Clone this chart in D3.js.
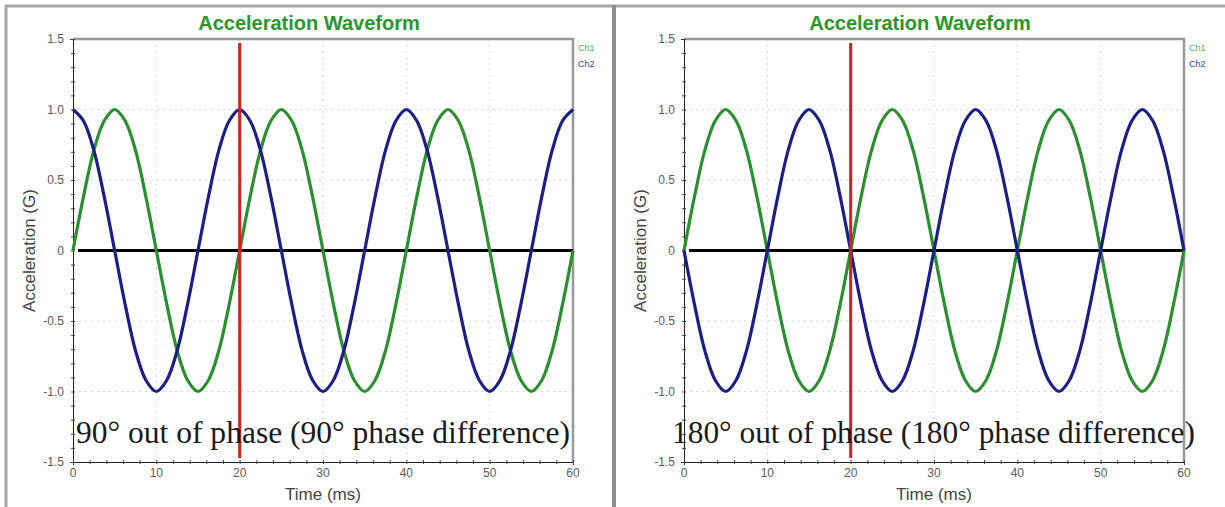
<!DOCTYPE html>
<html>
<head>
<meta charset="utf-8">
<script src="https://cdn.jsdelivr.net/npm/d3@7"></script>
<style>
	body { margin: 0; background: #ffffff; }
	.tickLabel { font-family: Arial, "Liberation Sans", sans-serif; font-size: 12px; fill: #5a5a5a; }
	.axisTitle { font-family: Arial, "Liberation Sans", sans-serif; font-size: 17px; fill: #444444; }
	.chartTitle { font-family: Arial, "Liberation Sans", sans-serif; font-size: 20px; font-weight: bold; fill: #2b962b; }
	.legendLabel { font-family: Arial, "Liberation Sans", sans-serif; font-size: 9px; }
	.phaseNote { font-family: "Liberation Serif", "Times New Roman", serif; font-size: 31px; fill: #1a1a1a; }
</style>
</head>
<body>
<script>

//chart data, sampled every 1.25 ms

var timeMs = [0, 1.25, 2.5, 3.75, 5, 6.25, 7.5, 8.75, 10, 11.25, 12.5, 13.75, 15, 16.25, 17.5, 18.75,
	20, 21.25, 22.5, 23.75, 25, 26.25, 27.5, 28.75, 30, 31.25, 32.5, 33.75, 35, 36.25, 37.5, 38.75,
	40, 41.25, 42.5, 43.75, 45, 46.25, 47.5, 48.75, 50, 51.25, 52.5, 53.75, 55, 56.25, 57.5, 58.75, 60];

var leftCh1 = [0, 0.38, 0.71, 0.92, 1.00, 0.92, 0.71, 0.38, 0, -0.38, -0.71, -0.92, -1.00, -0.92, -0.71, -0.38,
	0, 0.38, 0.71, 0.92, 1.00, 0.92, 0.71, 0.38, 0, -0.38, -0.71, -0.92, -1.00, -0.92, -0.71, -0.38,
	0, 0.38, 0.71, 0.92, 1.00, 0.92, 0.71, 0.38, 0, -0.38, -0.71, -0.92, -1.00, -0.92, -0.71, -0.38, 0];

var leftCh2 = [1.00, 0.92, 0.71, 0.38, 0, -0.38, -0.71, -0.92, -1.00, -0.92, -0.71, -0.38, 0, 0.38, 0.71, 0.92,
	1.00, 0.92, 0.71, 0.38, 0, -0.38, -0.71, -0.92, -1.00, -0.92, -0.71, -0.38, 0, 0.38, 0.71, 0.92,
	1.00, 0.92, 0.71, 0.38, 0, -0.38, -0.71, -0.92, -1.00, -0.92, -0.71, -0.38, 0, 0.38, 0.71, 0.92, 1.00];

var rightCh1 = [0, 0.38, 0.71, 0.92, 1.00, 0.92, 0.71, 0.38, 0, -0.38, -0.71, -0.92, -1.00, -0.92, -0.71, -0.38,
	0, 0.38, 0.71, 0.92, 1.00, 0.92, 0.71, 0.38, 0, -0.38, -0.71, -0.92, -1.00, -0.92, -0.71, -0.38,
	0, 0.38, 0.71, 0.92, 1.00, 0.92, 0.71, 0.38, 0, -0.38, -0.71, -0.92, -1.00, -0.92, -0.71, -0.38, 0];

var rightCh2 = [0, -0.38, -0.71, -0.92, -1.00, -0.92, -0.71, -0.38, 0, 0.38, 0.71, 0.92, 1.00, 0.92, 0.71, 0.38,
	0, -0.38, -0.71, -0.92, -1.00, -0.92, -0.71, -0.38, 0, 0.38, 0.71, 0.92, 1.00, 0.92, 0.71, 0.38,
	0, -0.38, -0.71, -0.92, -1.00, -0.92, -0.71, -0.38, 0, 0.38, 0.71, 0.92, 1.00, 0.92, 0.71, 0.38, 0];

var xTicks = [0, 10, 20, 30, 40, 50, 60];
var yTicks = [1.5, 1.0, 0.5, 0, -0.5, -1.0, -1.5];
var yTickLabels = ["1.5", "1.0", "0.5", "0", "-0.5", "-1.0", "-1.5"];
var markerTime = 20;

var panelTitles = ["Acceleration Waveform", "Acceleration Waveform"];
var phaseNotes = ["90\u00b0 out of phase (90\u00b0 phase difference)", "180\u00b0 out of phase (180\u00b0 phase difference)"];
var seriesNames = ["Ch1", "Ch2"];

//layout

var WIDTH = 1225;
var HEIGHT = 507;
var PANEL_OFFSET = [0, 611];
var PLOT_LEFT = 73;
var PLOT_RIGHT = 573;
var PLOT_TOP = 39;
var PLOT_BOTTOM = 462;
var TITLE_X = 309;
var NOTE_X = [76, 61];
var NOTE_WIDTH = [494, 523];

var CH1_COLOR = "#2a8f2e";
var CH2_COLOR = "#1d1d88";
var MARKER_COLOR = "#d21f1f";
var FRAME_COLOR = "#a6a6a6";

var svg = d3.select("body").append("svg")
	.attr("width", WIDTH)
	.attr("height", HEIGHT);

svg.append("rect")
	.attr("width", WIDTH)
	.attr("height", HEIGHT)
	.attr("fill", "#ffffff");

//outer frame lines
svg.append("line")
	.attr("x1", 5).attr("x2", WIDTH)
	.attr("y1", 6).attr("y2", 6)
	.attr("stroke", FRAME_COLOR)
	.attr("stroke-width", 3);
svg.append("line")
	.attr("x1", 6).attr("x2", 6)
	.attr("y1", 5).attr("y2", HEIGHT)
	.attr("stroke", FRAME_COLOR)
	.attr("stroke-width", 3);
svg.append("line")
	.attr("x1", 614).attr("x2", 614)
	.attr("y1", 5).attr("y2", HEIGHT)
	.attr("stroke", "#8f8f8f")
	.attr("stroke-width", 4);

var x = d3.scaleLinear().domain([0, 60]).range([PLOT_LEFT, PLOT_RIGHT]);
var y = d3.scaleLinear().domain([-1.5, 1.5]).range([PLOT_BOTTOM, PLOT_TOP]);

var line = d3.line()
	.x(function(d) { return x(d.t); })
	.y(function(d) { return y(d.v); })
	.curve(d3.curveCatmullRom);

function toPoints(values) {
	return values.map(function(v, i) { return {t: timeMs[i], v: v}; });
}

var panels = [
	{title: panelTitles[0], note: phaseNotes[0], ch1: leftCh1, ch2: leftCh2},
	{title: panelTitles[1], note: phaseNotes[1], ch1: rightCh1, ch2: rightCh2}
];

panels.forEach(function(p, i) {
	var g = svg.append("g")
		.attr("transform", "translate(" + PANEL_OFFSET[i] + ",0)");

	//title
	g.append("text")
		.attr("class", "chartTitle")
		.attr("x", TITLE_X)
		.attr("y", 30)
		.attr("text-anchor", "middle")
		.text(p.title);

	//grid
	g.selectAll(".gridX")
		.data(xTicks.slice(1, -1))
		.enter()
		.append("line")
		.attr("x1", function(d) { return x(d); })
		.attr("x2", function(d) { return x(d); })
		.attr("y1", PLOT_TOP)
		.attr("y2", PLOT_BOTTOM)
		.attr("stroke", "#d6d6d6")
		.attr("stroke-dasharray", "2,4");

	g.selectAll(".gridY")
		.data(yTicks.slice(1, -1))
		.enter()
		.append("line")
		.attr("x1", PLOT_LEFT)
		.attr("x2", PLOT_RIGHT)
		.attr("y1", function(d) { return y(d); })
		.attr("y2", function(d) { return y(d); })
		.attr("stroke", "#d6d6d6")
		.attr("stroke-dasharray", "2,4");

	//plot frame (top and right)
	g.append("path")
		.attr("d", "M" + PLOT_LEFT + "," + PLOT_TOP + "H" + PLOT_RIGHT + "V" + PLOT_BOTTOM)
		.attr("fill", "none")
		.attr("stroke", "#999999")
		.attr("stroke-width", 2.5);

	//axes with minor ticks
	var yAxis = d3.axisLeft(y)
		.tickValues(d3.range(-15, 16).map(function(k) { return k / 10; }))
		.tickSize(3)
		.tickFormat("");
	g.append("g")
		.attr("transform", "translate(" + PLOT_LEFT + ",0)")
		.call(yAxis)
		.call(function(a) {
			a.select(".domain").attr("stroke", "#222222");
			a.selectAll(".tick line").attr("stroke", "#444444").attr("x2", 2).attr("x1", -2);
		});

	var xAxis = d3.axisBottom(x)
		.tickValues(d3.range(0, 31).map(function(k) { return k * 2; }))
		.tickSize(3)
		.tickFormat("");
	g.append("g")
		.attr("transform", "translate(0," + PLOT_BOTTOM + ")")
		.call(xAxis)
		.call(function(a) {
			a.select(".domain").attr("stroke", "#222222");
			a.selectAll(".tick line").attr("stroke", "#444444").attr("y1", -2).attr("y2", 2);
		});

	//tick labels
	g.selectAll(".yLabel")
		.data(yTicks)
		.enter()
		.append("text")
		.attr("class", "tickLabel")
		.attr("x", PLOT_LEFT - 9)
		.attr("y", function(d) { return y(d) + 4; })
		.attr("text-anchor", "end")
		.text(function(d, j) { return yTickLabels[j]; });

	g.selectAll(".xLabel")
		.data(xTicks)
		.enter()
		.append("text")
		.attr("class", "tickLabel")
		.attr("x", function(d) { return x(d); })
		.attr("y", PLOT_BOTTOM + 15)
		.attr("text-anchor", "middle")
		.text(function(d) { return d; });

	g.append("text")
		.attr("class", "axisTitle")
		.attr("x", (PLOT_LEFT + PLOT_RIGHT) / 2)
		.attr("y", 500)
		.attr("text-anchor", "middle")
		.text("Time (ms)");

	g.append("text")
		.attr("class", "axisTitle")
		.attr("transform", "translate(35," + y(0) + ") rotate(-90)")
		.attr("text-anchor", "middle")
		.text("Acceleration (G)");

	//zero line
	g.append("line")
		.attr("x1", PLOT_LEFT + 5)
		.attr("x2", PLOT_RIGHT)
		.attr("y1", y(0))
		.attr("y2", y(0))
		.attr("stroke", "#000000")
		.attr("stroke-width", 3);

	//waveforms
	g.append("path")
		.datum(toPoints(p.ch1))
		.attr("d", line)
		.attr("fill", "none")
		.attr("stroke", CH1_COLOR)
		.attr("stroke-width", 3.2);

	g.append("path")
		.datum(toPoints(p.ch2))
		.attr("d", line)
		.attr("fill", "none")
		.attr("stroke", CH2_COLOR)
		.attr("stroke-width", 3.2);

	//cursor
	g.append("line")
		.attr("x1", x(markerTime))
		.attr("x2", x(markerTime))
		.attr("y1", PLOT_TOP + 4)
		.attr("y2", PLOT_BOTTOM - 4)
		.attr("stroke", MARKER_COLOR)
		.attr("stroke-width", 3);

	//legend
	g.selectAll(".legendLabel")
		.data(seriesNames)
		.enter()
		.append("text")
		.attr("class", "legendLabel")
		.attr("x", PLOT_RIGHT + 5)
		.attr("y", function(d, j) { return 51 + j * 16; })
		.attr("fill", function(d, j) { return j == 0 ? "#4caf50" : "#3a3aa0"; })
		.text(function(d) { return d; });

	//phase note
	g.append("text")
		.attr("class", "phaseNote")
		.attr("x", NOTE_X[i])
		.attr("y", 443)
		.attr("textLength", NOTE_WIDTH[i])
		.attr("lengthAdjust", "spacingAndGlyphs")
		.text(p.note);
});

</script>
</body>
</html>
